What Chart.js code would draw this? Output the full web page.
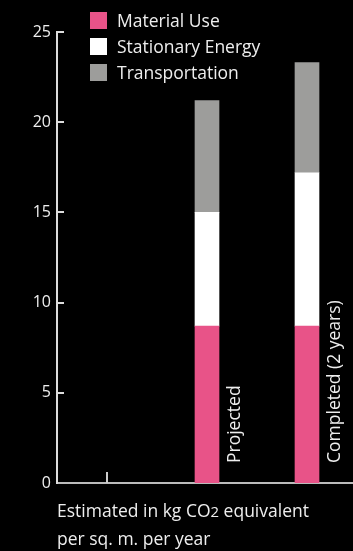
<!DOCTYPE html>
<html>
<head>
<meta charset="utf-8">
<script src="https://cdn.jsdelivr.net/npm/chart.js@4/dist/chart.umd.min.js"></script>
<style>
  html, body { margin: 0; padding: 0; background: #000; overflow: hidden; }
  #wrap { position: relative; width: 353px; height: 551px; overflow: hidden; font-family: "Open Sans", sans-serif; color: #eee; }
  #chart { position: absolute; left: 0; top: 0; }
  #legend { position: absolute; left: 90px; top: 7px; }
  .item { display: flex; align-items: center; height: 26px; font-size: 17.5px; }
  .box { width: 17px; height: 17px; margin-right: 10px; }
  #caption { position: absolute; left: 57px; top: 497px; font-size: 17.5px; line-height: 27px; }
</style>
</head>
<body>
<div id="wrap">
  <canvas id="chart" width="357" height="551"></canvas>
  <div id="legend"></div>
  <div id="caption">Estimated in kg CO<span style="font-size:0.85em">2</span> equivalent<br>per sq. m. per year</div>
</div>
<script>
// categories (first slot is empty on the original)
const categories = ['', 'Projected', 'Completed (2 years)'];

// series values, kg CO2 eq. per sq. m. per year
const materialUse = [null, 8.7, 8.7];
const stationaryEnergy = [null, 6.3, 8.5];
const transportation = [null, 6.2, 6.1];

const seriesNames = ['Material Use', 'Stationary Energy', 'Transportation'];
const seriesColors = ['#e85388', '#ffffff', '#9d9d9b'];

const yTicks = [0, 5, 10, 15, 20, 25];

// html legend
const legend = document.getElementById('legend');
seriesNames.forEach((name, i) => {
  const row = document.createElement('div');
  row.className = 'item';
  row.innerHTML = '<span class="box" style="background:' + seriesColors[i] + '"></span>' + name;
  legend.appendChild(row);
});

// inner tick marks, the odd little tick on the empty slot and rotated bar labels
const extras = {
  id: 'extras',
  afterDraw(chart) {
    const ctx = chart.ctx;
    const x = chart.scales.x;
    const y = chart.scales.y;
    const area = chart.chartArea;
    ctx.save();
    ctx.strokeStyle = '#dddddd';
    ctx.lineWidth = 2;
    yTicks.forEach(v => {
      if (v === 0) return;
      const py = Math.round(y.getPixelForValue(v));
      ctx.beginPath();
      ctx.moveTo(area.left, py);
      ctx.lineTo(area.left + 7, py);
      ctx.stroke();
    });
    ctx.strokeStyle = '#cccccc';
    const tx = Math.round(x.getPixelForValue(0));
    ctx.beginPath();
    ctx.moveTo(tx, area.bottom - 11);
    ctx.lineTo(tx, area.bottom);
    ctx.stroke();

    ctx.fillStyle = '#eeeeee';
    ctx.font = '17.5px "Open Sans", sans-serif';
    ctx.textAlign = 'left';
    ctx.textBaseline = 'middle';
    categories.forEach((label, i) => {
      if (!label) return;
      const px = x.getPixelForValue(i) + 12 + 16;
      ctx.save();
      ctx.translate(px, area.bottom - 20);
      ctx.rotate(-Math.PI / 2);
      ctx.fillText(label, 0, 0);
      ctx.restore();
    });
    ctx.restore();
  }
};

const data = {
  labels: categories,
  datasets: [materialUse, stationaryEnergy, transportation].map((values, i) => ({
    label: seriesNames[i],
    data: values,
    backgroundColor: seriesColors[i],
    borderWidth: 0,
    barThickness: 24
  }))
};

new Chart(document.getElementById('chart'), {
  type: 'bar',
  data: data,
  options: {
    responsive: false,
    animation: false,
    layout: { padding: { top: 32, left: 0, right: 0, bottom: 68 } },
    plugins: { legend: { display: false }, tooltip: { enabled: false } },
    scales: {
      x: {
        stacked: true,
        ticks: { display: false },
        grid: { display: false },
        border: { display: true, color: '#bbbbbb', width: 2 },
        afterFit(scale) { scale.height = 0; }
      },
      y: {
        stacked: true,
        min: 0,
        max: 25,
        afterBuildTicks(scale) { scale.ticks = yTicks.map(v => ({ value: v })); },
        ticks: { color: '#eeeeee', font: { size: 16, family: '"Open Sans", sans-serif' }, padding: 6 },
        grid: { display: false, drawTicks: false },
        border: { display: true, color: '#dddddd', width: 2 },
        afterFit(scale) { scale.width = 57; }
      }
    }
  },
  plugins: [extras]
});
</script>
</body>
</html>
